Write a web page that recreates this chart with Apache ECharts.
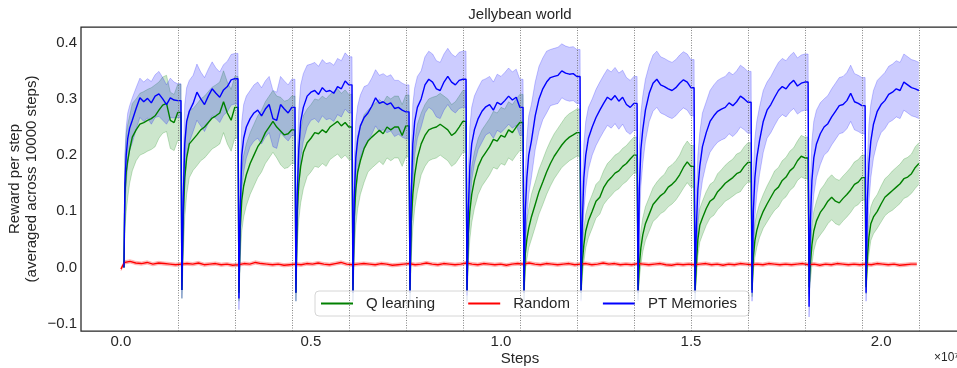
<!DOCTYPE html>
<html><head><meta charset="utf-8">
<script src="https://cdn.jsdelivr.net/npm/echarts@6/dist/echarts.min.js"></script>
<style>html,body{margin:0;padding:0;background:#fff}#chart{width:957px;height:368px}</style>
</head><body><div id="chart"></div><script>
// ---- data (x in units of 1e7 steps) ----
const segmentLength = 0.15;
const segmentOffsets = [0.008, 0.0105, 0.014, 0.018, 0.023, 0.03, 0.04, 0.05, 0.06, 0.07, 0.08, 0.09, 0.10, 0.11, 0.12, 0.13, 0.14, 0.1495];
const taskBoundaries = [0.15, 0.3, 0.45, 0.6, 0.75, 0.9, 1.05, 1.2, 1.35, 1.5, 1.65, 1.8, 1.95, 2.1];
const xTickValues = [0, 0.5, 1, 1.5, 2];
const yTickValues = [-0.1, 0, 0.1, 0.2, 0.3, 0.4];

const qLearningMean = [
  [0, 0.13, 0.17, 0.19, 0.21, 0.232, 0.245, 0.255, 0.258, 0.262, 0.265, 0.27, 0.28, 0.289, 0.292, 0.262, 0.258, 0.276],
  [0.276, -0.04, 0.09, 0.16, 0.195, 0.22, 0.228, 0.236, 0.245, 0.25, 0.258, 0.266, 0.27, 0.275, 0.295, 0.275, 0.262, 0.285],
  [0.285, -0.045, 0.07, 0.12, 0.145, 0.165, 0.185, 0.2, 0.215, 0.225, 0.24, 0.25, 0.26, 0.25, 0.243, 0.236, 0.238, 0.245],
  [0.245, -0.045, 0.10, 0.15, 0.18, 0.205, 0.222, 0.23, 0.24, 0.238, 0.245, 0.24, 0.25, 0.255, 0.26, 0.252, 0.258, 0.25],
  [0.25, -0.045, 0.09, 0.14, 0.17, 0.19, 0.212, 0.225, 0.232, 0.238, 0.244, 0.238, 0.25, 0.245, 0.25, 0.25, 0.235, 0.252],
  [0.252, -0.045, 0.08, 0.13, 0.165, 0.195, 0.22, 0.235, 0.245, 0.248, 0.25, 0.255, 0.25, 0.245, 0.235, 0.24, 0.25, 0.26],
  [0.26, -0.045, 0.06, 0.1, 0.13, 0.155, 0.18, 0.195, 0.205, 0.215, 0.228, 0.225, 0.235, 0.232, 0.245, 0.24, 0.25, 0.258],
  [0.258, -0.045, 0.025, 0.05, 0.07, 0.09, 0.112, 0.135, 0.152, 0.17, 0.185, 0.198, 0.208, 0.218, 0.226, 0.232, 0.236, 0.24],
  [0.24, -0.045, 0.01, 0.04, 0.065, 0.083, 0.1, 0.118, 0.125, 0.142, 0.153, 0.16, 0.168, 0.172, 0.18, 0.185, 0.193, 0.2],
  [0.2, -0.045, 0.005, 0.035, 0.058, 0.078, 0.095, 0.112, 0.12, 0.128, 0.133, 0.143, 0.148, 0.155, 0.165, 0.178, 0.188, 0.18],
  [0.18, -0.045, 0.005, 0.05, 0.075, 0.088, 0.105, 0.118, 0.123, 0.135, 0.142, 0.15, 0.155, 0.16, 0.167, 0.17, 0.18, 0.187],
  [0.187, -0.04, 0.018, 0.048, 0.066, 0.083, 0.1, 0.113, 0.125, 0.137, 0.143, 0.155, 0.161, 0.172, 0.178, 0.19, 0.198, 0.195],
  [0.195, -0.035, 0.005, 0.04, 0.065, 0.083, 0.098, 0.107, 0.118, 0.125, 0.118, 0.115, 0.123, 0.13, 0.138, 0.148, 0.152, 0.16],
  [0.16, -0.035, 0.018, 0.054, 0.078, 0.09, 0.1, 0.113, 0.125, 0.131, 0.137, 0.143, 0.149, 0.158, 0.161, 0.167, 0.178, 0.185]
];
const qLearningSpread = [
  [0, 0.06, 0.07, 0.065, 0.06, 0.06, 0.055, 0.055, 0.055, 0.055, 0.055, 0.055, 0.05, 0.05, 0.05, 0.05, 0.05, 0.05],
  [0.05, 0.015, 0.07, 0.07, 0.065, 0.06, 0.055, 0.055, 0.055, 0.055, 0.055, 0.055, 0.055, 0.055, 0.055, 0.055, 0.055, 0.055],
  [0.055, 0.015, 0.05, 0.055, 0.055, 0.055, 0.055, 0.055, 0.055, 0.055, 0.055, 0.055, 0.055, 0.055, 0.06, 0.06, 0.06, 0.06],
  [0.06, 0.015, 0.06, 0.065, 0.065, 0.065, 0.06, 0.06, 0.06, 0.06, 0.06, 0.06, 0.058, 0.058, 0.058, 0.058, 0.058, 0.058],
  [0.058, 0.015, 0.06, 0.065, 0.065, 0.06, 0.06, 0.055, 0.055, 0.055, 0.055, 0.055, 0.055, 0.055, 0.055, 0.055, 0.055, 0.055],
  [0.055, 0.015, 0.06, 0.06, 0.06, 0.06, 0.055, 0.055, 0.055, 0.055, 0.055, 0.055, 0.055, 0.055, 0.055, 0.055, 0.055, 0.055],
  [0.055, 0.015, 0.05, 0.05, 0.05, 0.05, 0.05, 0.05, 0.05, 0.05, 0.05, 0.05, 0.05, 0.05, 0.05, 0.05, 0.05, 0.05],
  [0.05, 0.015, 0.03, 0.035, 0.035, 0.04, 0.04, 0.04, 0.04, 0.04, 0.04, 0.04, 0.04, 0.04, 0.042, 0.042, 0.042, 0.042],
  [0.042, 0.012, 0.025, 0.03, 0.03, 0.03, 0.03, 0.03, 0.03, 0.03, 0.032, 0.032, 0.032, 0.032, 0.032, 0.032, 0.032, 0.032],
  [0.032, 0.012, 0.025, 0.03, 0.03, 0.03, 0.03, 0.03, 0.032, 0.032, 0.033, 0.035, 0.035, 0.035, 0.035, 0.037, 0.037, 0.037],
  [0.037, 0.012, 0.025, 0.03, 0.03, 0.03, 0.03, 0.03, 0.03, 0.032, 0.032, 0.032, 0.033, 0.033, 0.035, 0.035, 0.035, 0.035],
  [0.035, 0.012, 0.025, 0.03, 0.03, 0.03, 0.03, 0.032, 0.033, 0.035, 0.035, 0.035, 0.035, 0.035, 0.035, 0.035, 0.037, 0.037],
  [0.037, 0.012, 0.03, 0.035, 0.035, 0.035, 0.04, 0.04, 0.04, 0.04, 0.04, 0.04, 0.04, 0.04, 0.04, 0.04, 0.04, 0.04],
  [0.04, 0.012, 0.025, 0.03, 0.03, 0.03, 0.03, 0.032, 0.033, 0.033, 0.035, 0.035, 0.035, 0.035, 0.035, 0.035, 0.037, 0.037]
];

const ptMemoriesMean = [
  [0, 0.15, 0.2, 0.23, 0.248, 0.262, 0.283, 0.302, 0.295, 0.301, 0.293, 0.305, 0.309, 0.300, 0.29, 0.302, 0.298, 0.297],
  [0.297, -0.04, 0.12, 0.22, 0.26, 0.278, 0.292, 0.312, 0.30, 0.29, 0.305, 0.318, 0.31, 0.303, 0.316, 0.322, 0.334, 0.336],
  [0.336, -0.055, 0.10, 0.20, 0.23, 0.25, 0.265, 0.275, 0.28, 0.27, 0.282, 0.29, 0.265, 0.262, 0.29, 0.282, 0.275, 0.285],
  [0.285, -0.045, 0.13, 0.21, 0.26, 0.285, 0.305, 0.312, 0.315, 0.308, 0.32, 0.313, 0.315, 0.31, 0.322, 0.318, 0.332, 0.325],
  [0.325, -0.045, 0.12, 0.195, 0.228, 0.252, 0.267, 0.275, 0.287, 0.302, 0.292, 0.295, 0.29, 0.293, 0.283, 0.285, 0.28, 0.277],
  [0.277, -0.045, 0.13, 0.22, 0.26, 0.285, 0.3, 0.325, 0.335, 0.33, 0.318, 0.315, 0.33, 0.34, 0.33, 0.325, 0.333, 0.335],
  [0.335, -0.05, 0.1, 0.18, 0.22, 0.245, 0.265, 0.278, 0.286, 0.29, 0.28, 0.294, 0.29, 0.297, 0.305, 0.298, 0.303, 0.285],
  [0.285, -0.045, 0.1, 0.16, 0.2, 0.225, 0.27, 0.3, 0.318, 0.33, 0.338, 0.34, 0.342, 0.35, 0.346, 0.344, 0.345, 0.34],
  [0.34, -0.045, 0.08, 0.16, 0.2, 0.23, 0.25, 0.267, 0.28, 0.292, 0.303, 0.298, 0.306, 0.296, 0.303, 0.29, 0.285, 0.292],
  [0.292, -0.045, 0.14, 0.21, 0.245, 0.28, 0.31, 0.328, 0.335, 0.325, 0.322, 0.318, 0.315, 0.32, 0.328, 0.334, 0.33, 0.32],
  [0.32, -0.045, 0.07, 0.14, 0.18, 0.215, 0.24, 0.26, 0.27, 0.278, 0.282, 0.285, 0.293, 0.288, 0.295, 0.305, 0.3, 0.294],
  [0.294, -0.045, 0.1, 0.16, 0.195, 0.225, 0.26, 0.28, 0.29, 0.303, 0.315, 0.322, 0.318, 0.327, 0.333, 0.323, 0.328, 0.33],
  [0.33, -0.07, 0.08, 0.155, 0.195, 0.22, 0.238, 0.25, 0.256, 0.268, 0.278, 0.288, 0.29, 0.297, 0.31, 0.295, 0.292, 0.288],
  [0.288, -0.045, 0.12, 0.185, 0.225, 0.255, 0.278, 0.29, 0.297, 0.308, 0.312, 0.318, 0.315, 0.33, 0.325, 0.32, 0.318, 0.315]
];
const ptMemoriesSpread = [
  [0, 0.05, 0.05, 0.045, 0.04, 0.04, 0.037, 0.035, 0.035, 0.035, 0.038, 0.038, 0.04, 0.038, 0.035, 0.035, 0.032, 0.03],
  [0.03, 0.015, 0.07, 0.07, 0.06, 0.055, 0.05, 0.05, 0.048, 0.048, 0.048, 0.048, 0.045, 0.045, 0.045, 0.045, 0.045, 0.045],
  [0.045, 0.02, 0.06, 0.06, 0.06, 0.055, 0.05, 0.05, 0.05, 0.05, 0.05, 0.05, 0.05, 0.05, 0.05, 0.05, 0.05, 0.05],
  [0.05, 0.015, 0.07, 0.07, 0.065, 0.06, 0.055, 0.05, 0.05, 0.05, 0.05, 0.05, 0.05, 0.05, 0.05, 0.05, 0.05, 0.05],
  [0.05, 0.015, 0.07, 0.065, 0.06, 0.055, 0.055, 0.05, 0.05, 0.05, 0.05, 0.05, 0.05, 0.05, 0.05, 0.048, 0.048, 0.048],
  [0.048, 0.015, 0.07, 0.07, 0.06, 0.055, 0.05, 0.05, 0.05, 0.05, 0.05, 0.05, 0.05, 0.05, 0.05, 0.05, 0.05, 0.05],
  [0.05, 0.015, 0.07, 0.07, 0.065, 0.06, 0.055, 0.055, 0.05, 0.05, 0.05, 0.05, 0.05, 0.05, 0.05, 0.05, 0.05, 0.05],
  [0.05, 0.015, 0.07, 0.07, 0.07, 0.065, 0.06, 0.058, 0.055, 0.055, 0.05, 0.05, 0.05, 0.048, 0.048, 0.048, 0.048, 0.048],
  [0.048, 0.015, 0.06, 0.06, 0.06, 0.055, 0.05, 0.05, 0.05, 0.05, 0.05, 0.05, 0.05, 0.05, 0.048, 0.048, 0.048, 0.048],
  [0.048, 0.015, 0.07, 0.065, 0.06, 0.055, 0.05, 0.05, 0.05, 0.05, 0.05, 0.05, 0.05, 0.05, 0.05, 0.05, 0.05, 0.05],
  [0.05, 0.015, 0.06, 0.06, 0.06, 0.06, 0.055, 0.055, 0.055, 0.055, 0.055, 0.055, 0.055, 0.055, 0.055, 0.055, 0.055, 0.055],
  [0.055, 0.015, 0.07, 0.07, 0.065, 0.06, 0.055, 0.05, 0.05, 0.05, 0.05, 0.05, 0.05, 0.05, 0.05, 0.05, 0.05, 0.05],
  [0.05, 0.018, 0.07, 0.07, 0.065, 0.06, 0.055, 0.05, 0.05, 0.05, 0.05, 0.05, 0.05, 0.05, 0.05, 0.05, 0.05, 0.05],
  [0.05, 0.015, 0.07, 0.07, 0.065, 0.06, 0.055, 0.05, 0.05, 0.05, 0.05, 0.05, 0.05, 0.05, 0.05, 0.05, 0.05, 0.05]
];

const randomFirstStep = 0.009;
const randomStepSize = 0.015;
const randomStartValue = -0.003;
const randomMean = [
  0.009, 0.011, 0.008, 0.007, 0.009, 0.006, 0.008, 0.007, 0.006, 0.005,
  0.006, 0.007, 0.006, 0.008, 0.005, 0.006, 0.007, 0.005, 0.006, 0.004,
  0.005, 0.007, 0.006, 0.009, 0.007, 0.006, 0.005, 0.006, 0.004, 0.005,
  0.006, 0.005, 0.007, 0.006, 0.008, 0.006, 0.005, 0.007, 0.009, 0.006,
  0.005, 0.006, 0.007, 0.006, 0.005, 0.007, 0.006, 0.004, 0.005, 0.006,
  0.007, 0.005, 0.006, 0.008, 0.006, 0.005, 0.007, 0.006, 0.005, 0.006,
  0.008, 0.006, 0.005, 0.007, 0.006, 0.005, 0.006, 0.004, 0.006, 0.007,
  0.006, 0.008, 0.006, 0.005, 0.007, 0.006, 0.005, 0.006, 0.007, 0.005,
  0.006, 0.007, 0.005, 0.006, 0.008, 0.006, 0.007, 0.005, 0.006, 0.005,
  0.007, 0.006, 0.005, 0.006, 0.007, 0.005, 0.004, 0.006, 0.005, 0.006,
  0.005, 0.006, 0.007, 0.005, 0.006, 0.004, 0.006, 0.005, 0.007, 0.006,
  0.005, 0.006, 0.005, 0.007, 0.006, 0.005, 0.006, 0.005, 0.006, 0.007,
  0.005, 0.006, 0.004, 0.006, 0.005, 0.007, 0.006, 0.005, 0.006, 0.005,
  0.006, 0.005, 0.007, 0.006, 0.005, 0.006, 0.004, 0.005, 0.006, 0.006
];
const randomSpread = 0.003;

// ---- build series data ----
function buildSegments(meanSegs, spreadSegs) {
  const line = [], band = [];
  meanSegs.forEach((seg, k) => seg.forEach((v, j) => {
    const x = +(k * segmentLength + segmentOffsets[j]).toFixed(5);
    const s = spreadSegs[k][j];
    line.push([x, v]);
    band.push([x, v - s, v + s]);
  }));
  return { line, band };
}
const q = buildSegments(qLearningMean, qLearningSpread);
const pt = buildSegments(ptMemoriesMean, ptMemoriesSpread);
const rLine = [[0, randomStartValue]], rBand = [[0, randomStartValue - randomSpread, randomStartValue + randomSpread]];
randomMean.forEach((v, i) => {
  const x = +(randomFirstStep + i * randomStepSize).toFixed(5);
  rLine.push([x, v]);
  rBand.push([x, v - randomSpread, v + randomSpread]);
});

function bandRenderer(points, fill, edge) {
  return function (params, api) {
    if (params.dataIndex !== 0) return null;
    const upper = points.map(p => api.coord([p[0], p[2]]));
    const lower = points.map(p => api.coord([p[0], p[1]]));
    return {
      type: 'group',
      children: [
        { type: 'polygon', shape: { points: upper.concat(lower.slice().reverse()) }, style: { fill: fill, stroke: null } },
        { type: 'polyline', shape: { points: upper }, style: { stroke: edge, lineWidth: 1, fill: null } },
        { type: 'polyline', shape: { points: lower }, style: { stroke: edge, lineWidth: 1, fill: null } }
      ]
    };
  };
}

const FONT = "'Liberation Sans', Arial, sans-serif";
const TXT = '#262626';
const GREEN = '#008000', RED = '#ff0000', BLUE = '#0000ff';

const chart = echarts.init(document.getElementById('chart'), null, { renderer: 'canvas' });
chart.setOption({
  animation: false,
  backgroundColor: '#ffffff',
  textStyle: { fontFamily: FONT },
  grid: { left: 81, top: 27, width: 878, height: 304, show: true, borderColor: TXT, borderWidth: 1.25, containLabel: false, outerBoundsMode: 'none' },
  xAxis: {
    type: 'value', min: -0.105, max: 2.205,
    axisLine: { show: false }, axisTick: { show: false }, splitLine: { show: false },
    axisLabel: { customValues: xTickValues, formatter: v => v.toFixed(1), fontSize: 15, color: TXT, margin: 3, fontFamily: FONT },
    name: 'Steps', nameLocation: 'middle', nameGap: 20, nameMoveOverlap: false,
    nameTextStyle: { fontSize: 15, color: TXT, fontFamily: FONT }
  },
  yAxis: {
    type: 'value', min: -0.113, max: 0.428,
    axisLine: { show: false }, axisTick: { show: false }, splitLine: { show: false },
    axisLabel: { customValues: yTickValues, formatter: v => (v < 0 ? '\u2212' : '') + Math.abs(v).toFixed(1), fontSize: 15, color: TXT, margin: 4, fontFamily: FONT },
    name: 'Reward per step\n(averaged across 10000 steps)', nameLocation: 'middle', nameRotate: 90, nameGap: 41, nameMoveOverlap: false,
    nameTextStyle: { fontSize: 15, lineHeight: 17, color: TXT, fontFamily: FONT, align: 'center' }
  },
  legend: {
    data: ['Q learning', 'Random', 'PT Memories'],
    left: 315, top: 291, orient: 'horizontal',
    icon: 'rect', itemWidth: 32, itemHeight: 2, itemGap: 33,
    padding: [5, 12, 5, 6],
    borderColor: '#d6d6d6', borderWidth: 1, borderRadius: 4,
    backgroundColor: 'rgba(255,255,255,0.8)',
    textStyle: { fontSize: 15, color: TXT, fontFamily: FONT, padding: [0, 0, 0, 8] },
    selectedMode: false
  },
  graphic: [
    { type: 'text', x: 520, y: 15, style: { text: 'Jellybean world', font: '15px ' + FONT, fill: TXT, textAlign: 'center', textVerticalAlign: 'middle' } },
    { type: 'text', x: 934, y: 358, style: { text: '\u00d710\u2077', font: '12px ' + FONT, fill: TXT, textAlign: 'left', textVerticalAlign: 'middle' } }
  ],
  series: [
    { type: 'custom', name: 'Q band', silent: true, renderItem: bandRenderer(q.band, 'rgba(0,128,0,0.2)', 'rgba(0,128,0,0.22)'), data: q.band, encode: { x: 0, y: [1, 2] },
      markLine: { silent: true, symbol: 'none', label: { show: false }, lineStyle: { type: [1, 1.5], color: '#666', width: 0.8 }, data: taskBoundaries.map(v => ({ xAxis: v })) } },
    { type: 'line', name: 'Q learning', color: GREEN, data: q.line, showSymbol: false, lineStyle: { width: 1.4, color: GREEN } },
    { type: 'custom', name: 'Random band', silent: true, renderItem: bandRenderer(rBand, 'rgba(255,0,0,0.2)', 'rgba(255,0,0,0.22)'), data: rBand, encode: { x: 0, y: [1, 2] } },
    { type: 'line', name: 'Random', color: RED, data: rLine, showSymbol: false, lineStyle: { width: 1.4, color: RED } },
    { type: 'custom', name: 'PT band', silent: true, renderItem: bandRenderer(pt.band, 'rgba(0,0,255,0.2)', 'rgba(0,0,255,0.22)'), data: pt.band, encode: { x: 0, y: [1, 2] } },
    { type: 'line', name: 'PT Memories', color: BLUE, data: pt.line, showSymbol: false, lineStyle: { width: 1.4, color: BLUE } }
  ]
});
</script></body></html>
